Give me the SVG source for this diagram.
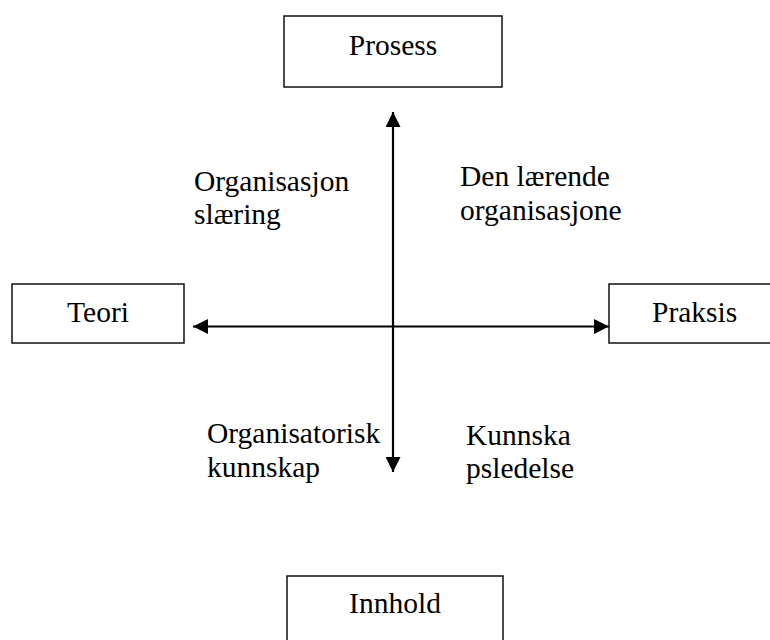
<svg xmlns="http://www.w3.org/2000/svg" width="770" height="640" viewBox="0 0 770 640">
<style>
.box{fill:#fff;stroke:#111;stroke-width:1.5}
.t{font-family:"Liberation Serif","Times New Roman",serif;font-size:29.5px;fill:#000}
.c{text-anchor:middle}
.ln{stroke:#000;stroke-width:2.2;fill:none}
</style>
<defs>
<marker id="ah" viewBox="0 0 10 10" refX="10" refY="5" markerWidth="16" markerHeight="15" markerUnits="userSpaceOnUse" orient="auto-start-reverse">
<path d="M0,0 L10,5 L0,10 Z" fill="#000"/>
</marker>
</defs>
<rect width="770" height="640" fill="#fff"/>
<g id="prosess"><rect class="box" x="284" y="16" width="218" height="71"/><text class="t c" x="393" y="55">Prosess</text></g>
<g id="teori"><rect class="box" x="12" y="284" width="172" height="59"/><text class="t c" x="98" y="322">Teori</text></g>
<g id="praksis"><rect class="box" x="609" y="284" width="175" height="59"/><text class="t" x="652" y="322">Praksis</text></g>
<g id="innhold"><rect class="box" x="287" y="576" width="216" height="80"/><text class="t c" x="395" y="613">Innhold</text></g>
<g id="connectors">
<line class="ln" x1="393" y1="472" x2="393" y2="112" marker-start="url(#ah)" marker-end="url(#ah)"/>
<line class="ln" x1="193" y1="326.5" x2="609" y2="326.5" marker-start="url(#ah)" marker-end="url(#ah)"/>
</g>
<g id="labels">
<text class="t" x="194" y="191">Organisasjon</text>
<text class="t" x="194" y="224">slæring</text>
<text class="t" x="460" y="186">Den lærende</text>
<text class="t" x="460" y="220">organisasjone</text>
<text class="t" x="207" y="443">Organisatorisk</text>
<text class="t" x="207" y="477">kunnskap</text>
<text class="t" x="466" y="445">Kunnska</text>
<text class="t" x="466" y="478">psledelse</text>
</g>
</svg>
